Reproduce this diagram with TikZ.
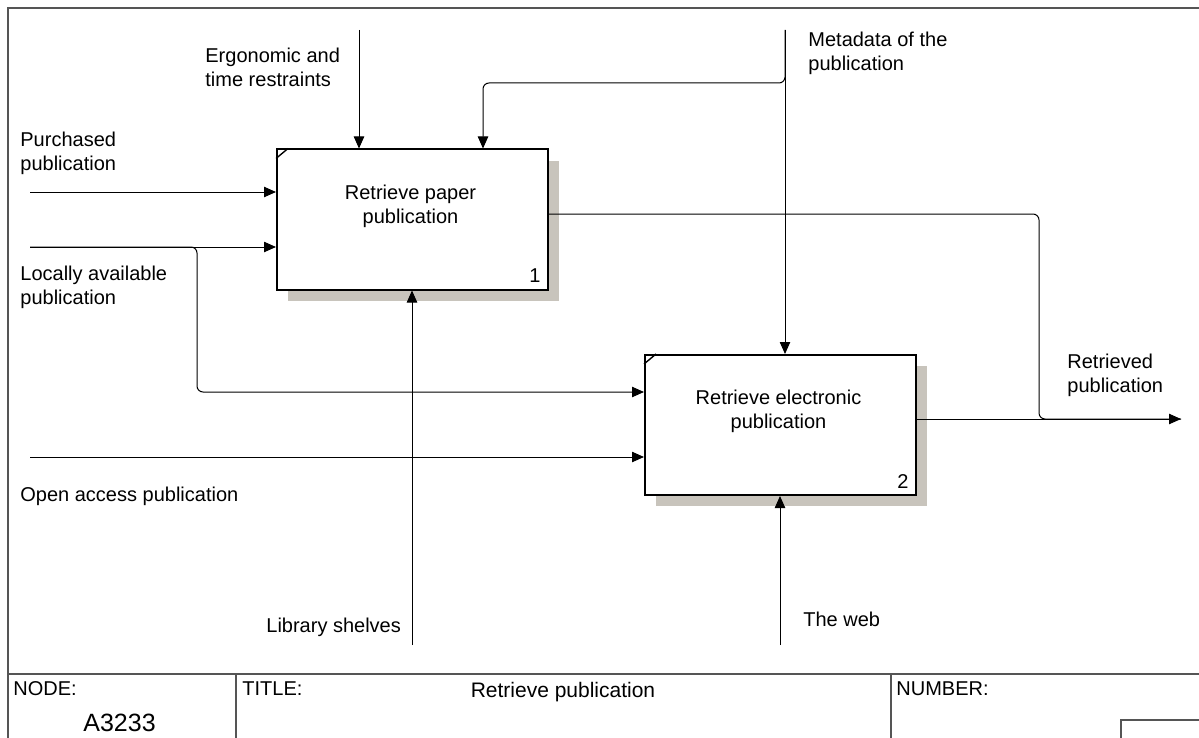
\documentclass[tikz,border=0pt]{standalone}
\usepackage{fontspec}
\setmainfont{Liberation Sans}
\usetikzlibrary{arrows.meta,shadows}

\definecolor{shadegray}{RGB}{200,196,188}
\definecolor{framegray}{RGB}{85,85,85}

\tikzset{
	actbox/.style = {draw, line width=1pt, fill=white, inner sep=0pt,
		minimum width=135.5pt, minimum height=70pt,
		drop shadow={shadow xshift=5.5pt, shadow yshift=-5.5pt, fill=shadegray, opacity=1}},
	boxtext/.style = {align=center, inner sep=0pt, anchor=north},
	boxnum/.style = {inner sep=0pt, anchor=base east},
	flow/.style = {line width=0.5pt, -{Triangle[length=6pt,width=5.2pt]}},
	line/.style = {line width=0.5pt},
	lbl/.style = {align=left, inner sep=0pt, anchor=north west},
	rule/.style = {line width=0.6pt, draw=framegray},
	foot/.style = {inner sep=0pt, anchor=base west},
}

\begin{document}
\begin{tikzpicture}[x=0.5pt, y=-0.5pt, font=\fontsize{10}{12}\selectfont]
	\useasboundingbox (0,0) rectangle (1199,738);
	
	% frame and footer
	\draw[rule] (1199,8) -- (8,8) -- (8,738);
	\draw[rule] (8,674) -- (1199,674);
	\draw[rule] (236,674) -- (236,738);
	\draw[rule] (891,674) -- (891,738);
	\draw[rule] (1121,738) -- (1121,720) -- (1199,720);
	
	\node[foot] (nodehead) at (13,695) {NODE:};
	\node[foot, font=\fontsize{12.5}{14}\selectfont] (nodeid) at (83,731) {A3233};
	\node[foot] (titlehead) at (242,695) {TITLE:};
	\node[inner sep=0pt, anchor=base, font=\fontsize{10.5}{12}\selectfont] (title) at (563,697) {Retrieve publication};
	\node[foot] (numhead) at (896,695) {NUMBER:};
	
	% the two activities
	\node[actbox] (paper) at (412.5,219.5) {};
	\node[actbox] (elec) at (780.5,425) {};
	\draw[line width=0.7pt] ([yshift=-5pt]paper.north west) -- ([xshift=6pt]paper.north west);
	\draw[line width=0.7pt] ([yshift=-5pt]elec.north west) -- ([xshift=6pt]elec.north west);
	\node[boxtext] (papertext) at ([xshift=-1pt,yshift=-18pt]paper.north) {Retrieve paper\\publication};
	\node[boxtext] (electext) at ([xshift=-1pt,yshift=-18pt]elec.north) {Retrieve electronic\\publication};
	\node[boxnum] (papernum) at ([shift={(-4pt,4pt)}]paper.south east) {1};
	\node[boxnum] (elecnum) at ([shift={(-4pt,4pt)}]elec.south east) {2};
	
	% free ends
	\coordinate (ergoin) at (359,30);
	\coordinate (metain) at (785,30);
	\coordinate (metabend) at (483,83);
	\coordinate (purchin) at (30,192);
	\coordinate (localin) at (30,247);
	\coordinate (localbend) at (197,392);
	\coordinate (openin) at (30,457);
	\coordinate (shelfin) at (412,645);
	\coordinate (webin) at (780,645);
	\coordinate (outrow) at (0,214);
	\coordinate (retbend) at (1039,419);
	\coordinate (retout) at (1181,419);
	
	% controls
	\draw[flow] (ergoin) -- (ergoin |- paper.north);
	\draw[flow] (metain) -- (metain |- elec.north);
	\draw[flow, rounded corners=3pt] (metain) |- (metabend) -- (metabend |- paper.north);
	
	% inputs
	\draw[flow] (purchin) -- (purchin -| paper.west);
	\draw[flow] (localin) -- (localin -| paper.west);
	\draw[flow, rounded corners=3pt] (localin) -| (localbend) -- (localbend -| elec.west);
	\draw[flow] (openin) -- (openin -| elec.west);
	
	% mechanisms
	\draw[flow] (shelfin) -- (shelfin |- paper.south);
	\draw[flow] (webin) -- (webin |- elec.south);
	
	% output
	\draw[line, rounded corners=3pt] (outrow -| paper.east) -| (retbend) -- (retout);
	\draw[flow] (elec.east |- retout) -- (retout);
	
	% labels
	\node[lbl] (ergolbl) at (205,47.5) {Ergonomic and\\time restraints};
	\node[lbl] (metalbl) at (808,31.5) {Metadata of the\\publication};
	\node[lbl] (purchlbl) at (20,131.5) {Purchased\\publication};
	\node[lbl] (locallbl) at (20,265.5) {Locally available\\publication};
	\node[foot] (openlbl) at (20,501) {Open access publication};
	\node[foot] (shelflbl) at (266,632) {Library shelves};
	\node[foot] (weblbl) at (803,626) {The web};
	\node[lbl] (retlbl) at (1067,353.5) {Retrieved\\publication};
\end{tikzpicture}
\end{document}
